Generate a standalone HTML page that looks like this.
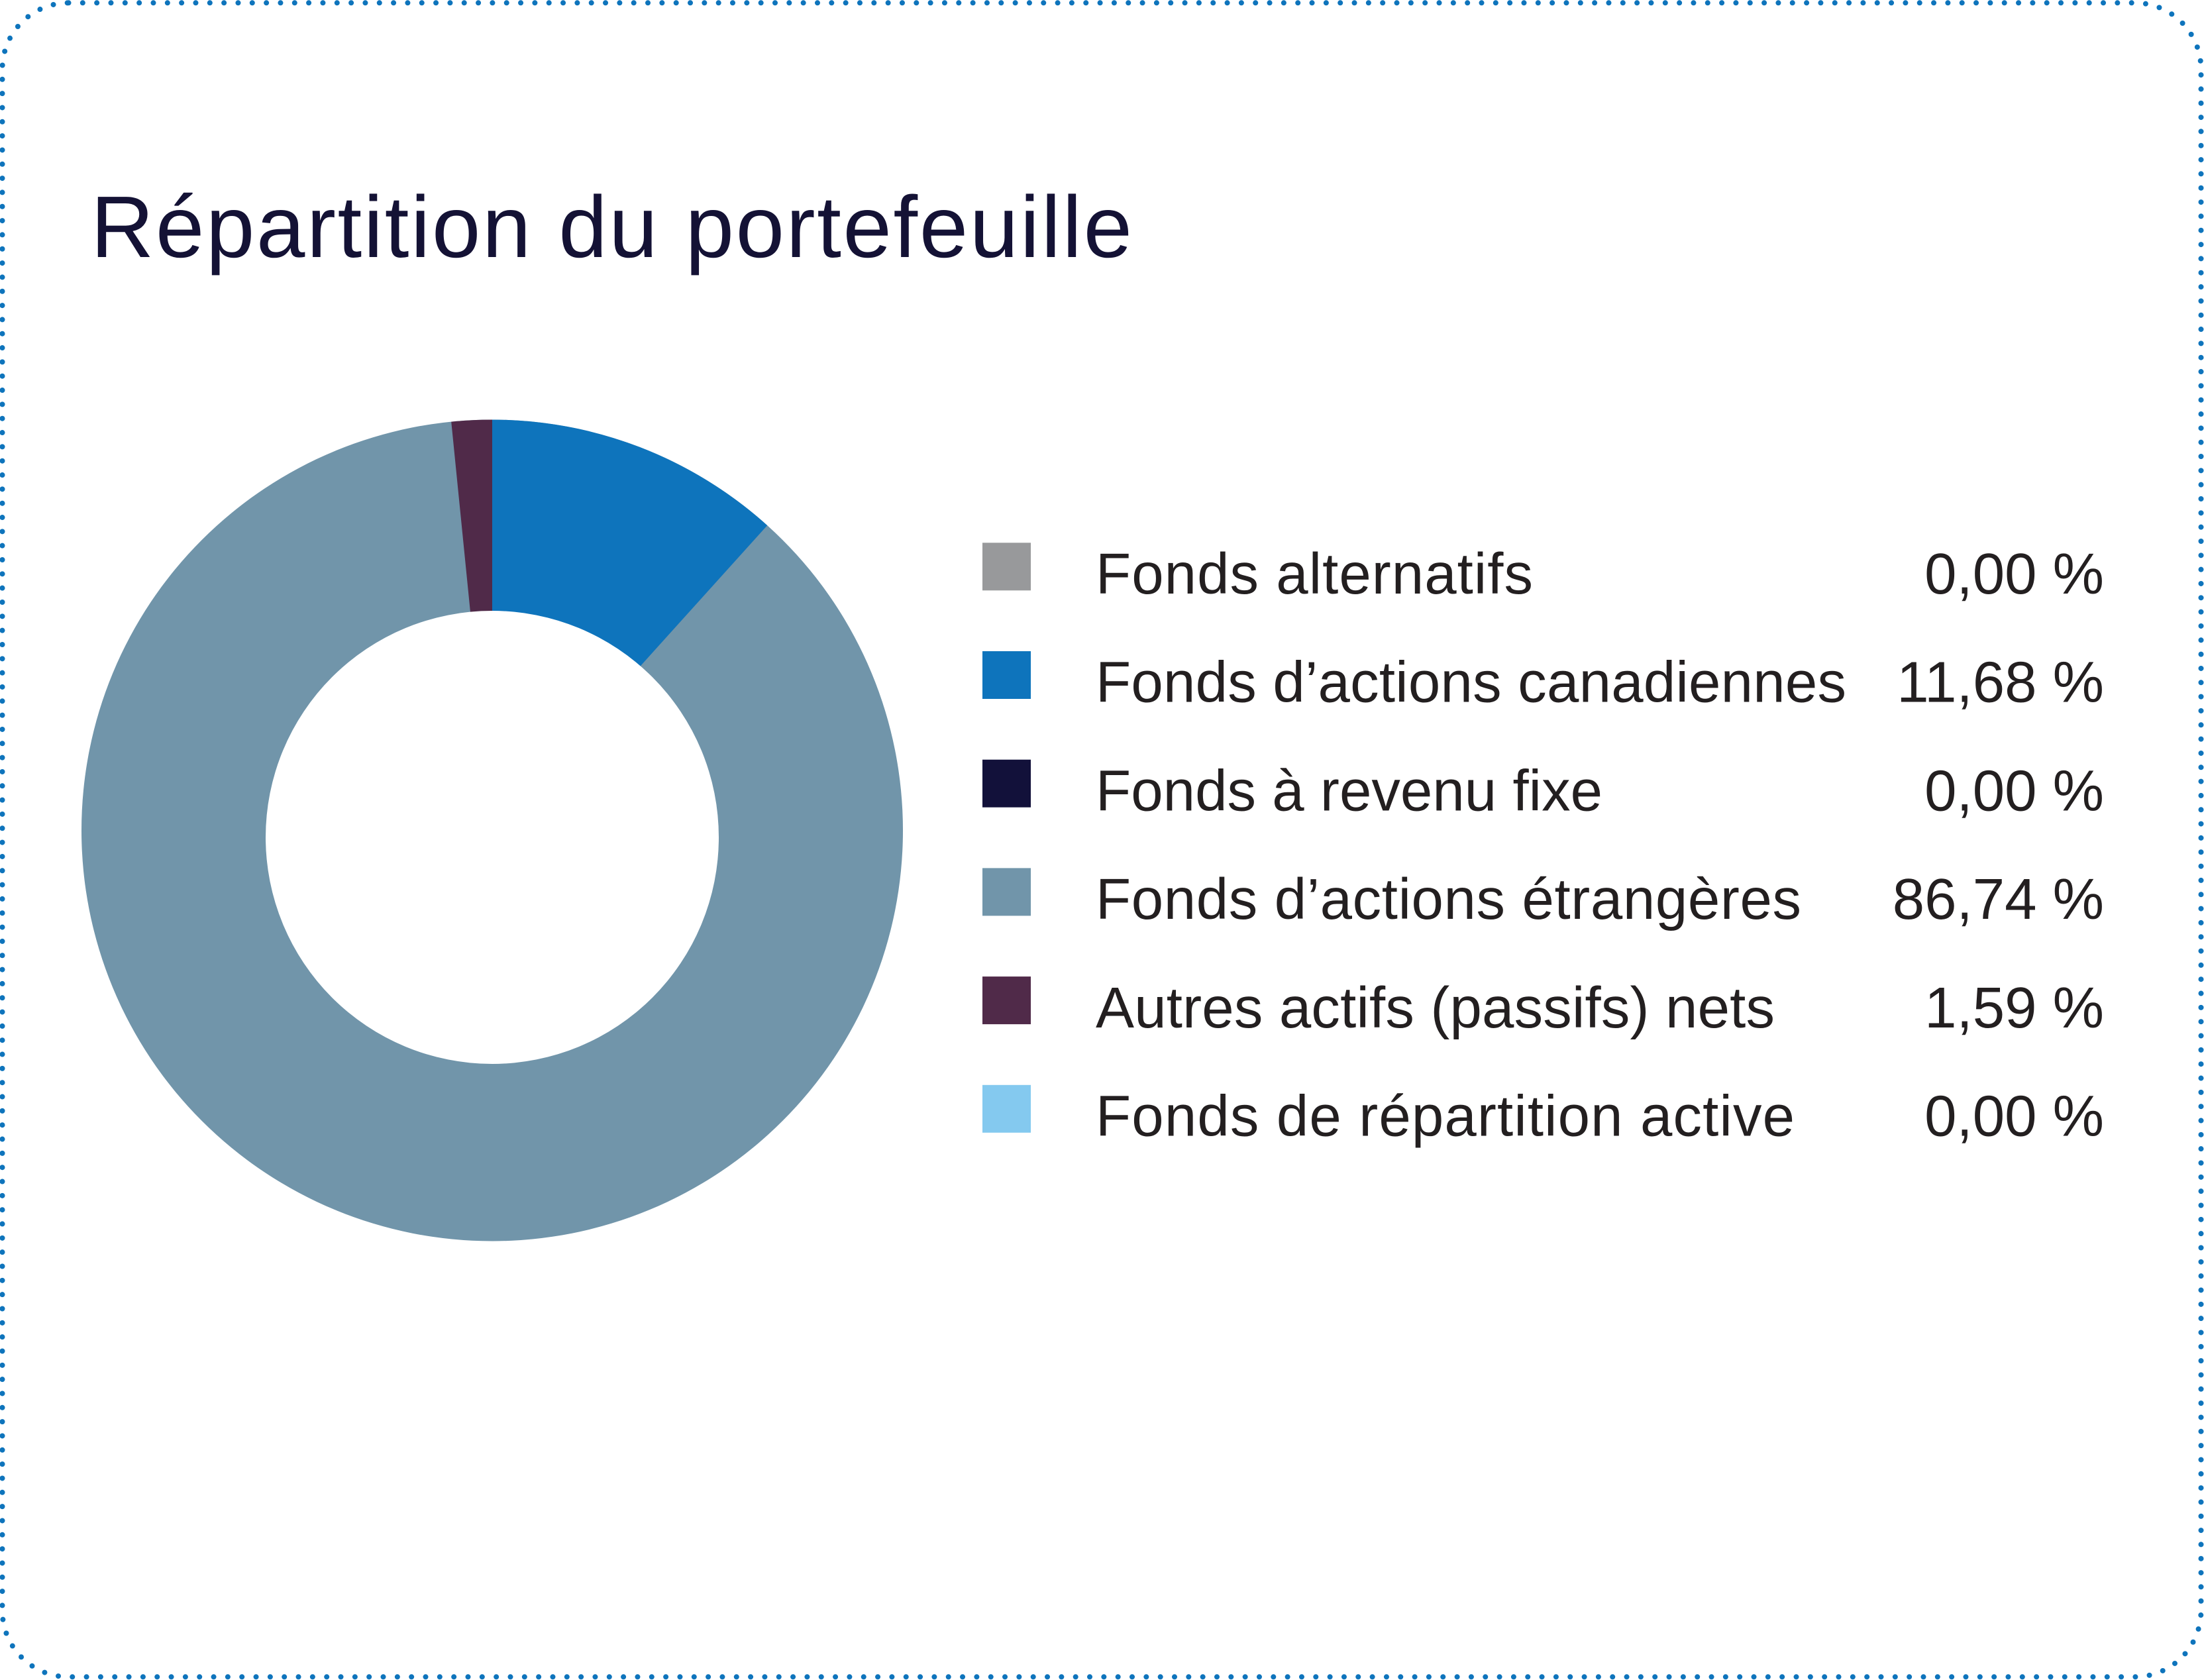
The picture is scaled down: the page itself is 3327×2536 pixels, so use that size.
<!DOCTYPE html>
<html>
<head>
<meta charset="utf-8">
<style>
  html, body { margin: 0; padding: 0; background: #ffffff; }
  body { width: 3327px; height: 2536px; overflow: hidden; }
  svg { display: block; }
</style>
</head>
<body>
<svg width="3327" height="2536" viewBox="0 0 3327 2536" xmlns="http://www.w3.org/2000/svg">
  <rect x="0" y="0" width="3327" height="2536" fill="#ffffff"/>
  <!-- dotted rounded border -->
  <rect x="3.5" y="4.3" width="3319" height="2527" rx="100" ry="100" fill="none"
        stroke="#0e74bc" stroke-width="8" stroke-linecap="round" stroke-dasharray="0 21.33"/>

  <!-- Title -->
  <text x="137" y="388" font-family="Liberation Sans, Arial, sans-serif" font-size="132"
        fill="#141235" textLength="1572" lengthAdjust="spacing">Répartition du portefeuille</text>

  <!-- Donut -->
  <circle cx="743" cy="1253.5" r="620" fill="#7195aa"/>
  <path d="M743,1253.5 L743,633.5 A620,620 0 0,1 1158.2,793.1 Z" fill="#0e74bc"/>
  <path d="M743,1253.5 L681.2,636.6 A620,620 0 0,1 743,633.5 Z" fill="#502a49"/>
  <circle cx="743" cy="1264" r="342" fill="#ffffff"/>

  <!-- Legend squares -->
  <rect x="1483" y="819.3" width="73" height="72" fill="#98999b"/>
  <rect x="1483" y="983" width="73" height="72" fill="#0e74bc"/>
  <rect x="1483" y="1146.7" width="73" height="72" fill="#12113a"/>
  <rect x="1483" y="1310.4" width="73" height="72" fill="#7195aa"/>
  <rect x="1483" y="1474.1" width="73" height="72" fill="#502a49"/>
  <rect x="1483" y="1637.8" width="73" height="72" fill="#84c9ef"/>

  <!-- Legend labels -->
  <g font-family="Liberation Sans, Arial, sans-serif" font-size="87" fill="#231f20">
    <text x="1654" y="896" textLength="660" lengthAdjust="spacing">Fonds alternatifs</text>
    <text x="1654" y="1059.7" textLength="1133" lengthAdjust="spacing">Fonds d’actions canadiennes</text>
    <text x="1654" y="1223.4" textLength="765" lengthAdjust="spacing">Fonds à revenu fixe</text>
    <text x="1654" y="1387.1" textLength="1065" lengthAdjust="spacing">Fonds d’actions étrangères</text>
    <text x="1654" y="1550.8" textLength="1025" lengthAdjust="spacing">Autres actifs (passifs) nets</text>
    <text x="1654" y="1714.5" textLength="1055" lengthAdjust="spacing">Fonds de répartition active</text>
  </g>

  <!-- Legend values -->
  <g font-family="Liberation Sans, Arial, sans-serif" font-size="87" fill="#231f20" text-anchor="end">
    <text x="3176" y="896">0,00 %</text>
    <text x="3176" y="1059.7">11,68 %</text>
    <text x="3176" y="1223.4">0,00 %</text>
    <text x="3176" y="1387.1">86,74 %</text>
    <text x="3176" y="1550.8">1,59 %</text>
    <text x="3176" y="1714.5">0,00 %</text>
  </g>
</svg>
</body>
</html>
